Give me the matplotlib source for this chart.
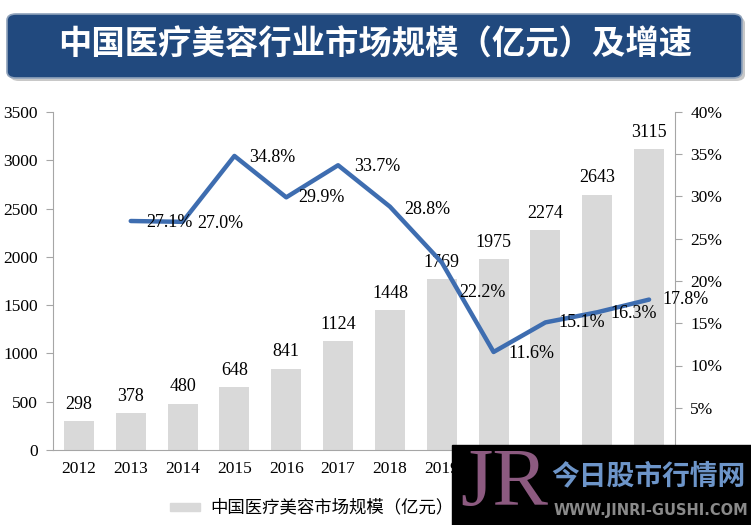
import matplotlib
matplotlib.use("Agg")
import matplotlib.pyplot as plt
from matplotlib.patches import FancyBboxPatch, Rectangle

years = ["2012", "2013", "2014", "2015", "2016", "2017", "2018", "2019", "2020", "2021", "2022", "2023"]
market_size = [298, 378, 480, 648, 841, 1124, 1448, 1769, 1975, 2274, 2643, 3115]
growth_years = years[1:]
growth_pct = [27.1, 27.0, 34.8, 29.9, 33.7, 28.8, 22.2, 11.6, 15.1, 16.3, 17.8]
# label offsets in points (dx, dy), as placed in the original
growth_label_offsets = [(28, -1), (27, -1), (27, -1), (25, 0), (28, -1), (27, -2),
                        (29, -22), (27, -1), (26, 0), (26, -1), (26, 0)]

title = "中国医疗美容行业市场规模（亿元）及增速"
legend_label = "中国医疗美容市场规模（亿元）"

serif = "Liberation Serif"
cjk = ["Noto Sans CJK SC", "DejaVu Sans"]
bar_color = "#d9d9d9"
line_color = "#3e6db0"
axis_color = "#a6a6a6"

fig = plt.figure(figsize=(7.51, 5.25), dpi=100)
ax = fig.add_axes([53 / 751, 1 - 450 / 525, (675 - 53) / 751, (450 - 112) / 525])
x = list(range(len(years)))

ax.bar(x, market_size, width=0.58, color=bar_color, label=legend_label, zorder=1)
for xi, v in zip(x, market_size):
    ax.annotate(str(v), (xi, v), xytext=(0, 6), textcoords="offset points",
                ha="center", va="bottom", fontsize=13, family=serif)
ax.set_xlim(-0.5, len(years) - 0.5)
ax.set_ylim(0, 3500)
ax.set_yticks(range(0, 3501, 500))
ax.set_xticks(x)
ax.set_xticklabels(years)
for side in ("top", "right"):
    ax.spines[side].set_visible(False)
for side in ("left", "bottom"):
    ax.spines[side].set_color(axis_color)
ax.tick_params(axis="y", colors=axis_color, labelcolor="black", length=5, labelsize=12.5, pad=6)
ax.tick_params(axis="x", length=0, labelsize=12.5, pad=8)
for lab in ax.get_xticklabels() + ax.get_yticklabels():
    lab.set_family(serif)

ax2 = ax.twinx()
gx = [years.index(y) for y in growth_years]
ax2.plot(gx, growth_pct, color=line_color, lw=3.2, solid_capstyle="round", zorder=3)
for xi, v, (dx, dy) in zip(gx, growth_pct, growth_label_offsets):
    ax2.annotate(f"{v:.1f}%", (xi, v), xytext=(dx, dy), textcoords="offset points",
                 ha="center", va="center", fontsize=13, family=serif)
ax2.set_ylim(0, 40)
ax2.set_yticks(range(0, 41, 5))
ax2.set_yticklabels([f"{t}%" for t in range(0, 41, 5)])
for side in ("top", "left", "bottom"):
    ax2.spines[side].set_visible(False)
ax2.spines["right"].set_color(axis_color)
ax2.tick_params(axis="y", colors=axis_color, labelcolor="black", length=5, labelsize=12.5, pad=6)
for lab in ax2.get_yticklabels():
    lab.set_family(serif)

# title banner with a soft shadow
shadow = FancyBboxPatch((10 / 751, 1 - 81 / 525), 735 / 751, 64 / 525,
                        boxstyle="round,pad=0,rounding_size=0.012",
                        transform=fig.transFigure, facecolor="#c8c8c8",
                        edgecolor="none", zorder=4)
fig.patches.append(shadow)
banner = FancyBboxPatch((7 / 751, 1 - 78 / 525), 735 / 751, 64 / 525,
                        boxstyle="round,pad=0,rounding_size=0.012",
                        transform=fig.transFigure, facecolor="#21497e",
                        edgecolor="#8fa2bb", lw=1.2, zorder=5)
fig.patches.append(banner)
fig.text(0.5, 1 - 45 / 525, title, ha="center", va="center", color="white",
         fontsize=24, fontweight="bold", family=cjk, zorder=6)

# legend
fig.patches.append(Rectangle((170 / 751, 1 - 511 / 525), 30 / 751, 8 / 525,
                             transform=fig.transFigure, color=bar_color))
fig.text(210 / 751, 1 - 507 / 525, legend_label, ha="left", va="center",
         fontsize=12.5, family=cjk)

# watermark
fig.patches.append(Rectangle((452 / 751, 0), 299 / 751, 80 / 525,
                             transform=fig.transFigure, color="black", zorder=7))
fig.text(460 / 751, 1 - 485 / 525, "JR", ha="left", va="center", color="#8c5a80",
         fontsize=60, family=serif, zorder=8)
fig.text(648 / 751, 1 - 476 / 525, "今日股市行情网", ha="center", va="center",
         color="#6d95c9", fontsize=20, fontweight="bold", family=cjk, zorder=8)
fig.text(651 / 751, 1 - 511 / 525, "WWW.JINRI-GUSHI.COM", ha="center", va="center",
         color="#8a8a8a", fontsize=10.5, fontweight="bold", family="DejaVu Sans", zorder=8)

fig.savefig("out.png", dpi=100)
